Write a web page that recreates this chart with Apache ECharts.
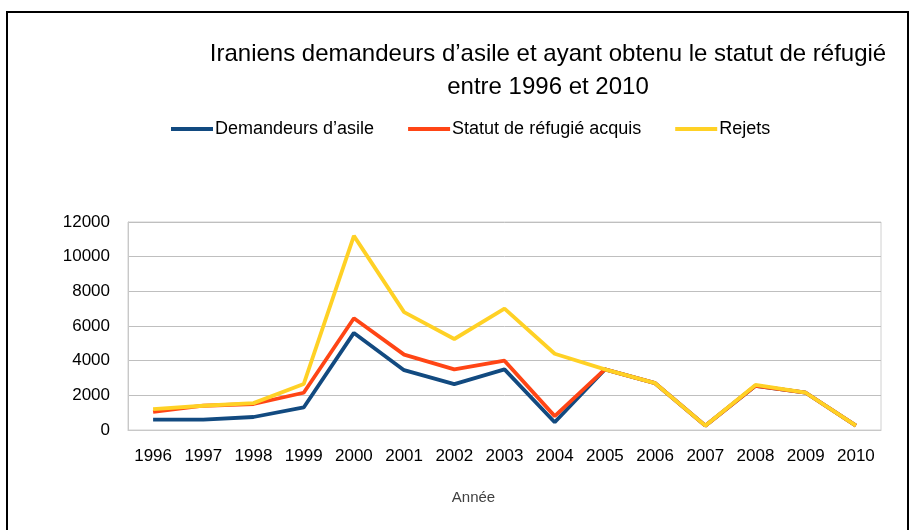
<!DOCTYPE html>
<html>
<head>
<meta charset="utf-8">
<script src="https://cdn.jsdelivr.net/npm/echarts@6/dist/echarts.min.js"></script>
<style>
  html, body { margin: 0; padding: 0; background: #fff; }
  #chart { width: 911px; height: 530px; }
</style>
</head>
<body>
<div id="chart"></div>
<script>
// annees
const years = ['1996', '1997', '1998', '1999', '2000', '2001', '2002', '2003', '2004', '2005', '2006', '2007', '2008', '2009', '2010']
// series
const demandeurs = [600, 600, 750, 1300, 5600, 3450, 2650, 3500, 450, 3500, 2700, 250, 2550, 2150, 250]
const statutAcquis = [1050, 1400, 1500, 2150, 6450, 4350, 3500, 4000, 800, 3500, 2700, 250, 2550, 2150, 250]
const rejets = [1200, 1400, 1550, 2650, 11200, 6800, 5250, 7000, 4400, 3500, 2700, 250, 2600, 2150, 250]
const yTicks = { min: 0, max: 12000, interval: 2000 }

const font = '"Liberation Sans", sans-serif'

const chart = echarts.init(document.getElementById('chart'), null, { renderer: 'canvas' })

function lineSerie(name, data, color) {
  return {
    name: name,
    type: 'line',
    data: data,
    symbol: 'none',
    lineStyle: { color: color, width: 3.8 },
    itemStyle: { color: color },
    animation: false
  }
}

chart.setOption({
  backgroundColor: '#fff',
  title: {
    text: 'Iraniens demandeurs d\u2019asile et ayant obtenu le statut de réfugié\nentre 1996 et 2010',
    left: 543,
    top: 33,
    textAlign: 'center',
    textStyle: {
      fontFamily: font,
      fontSize: 24,
      fontWeight: 'normal',
      color: '#000',
      lineHeight: 33
    }
  },
  legend: {
    top: 115,
    left: 166,
    itemWidth: 42,
    itemHeight: 4,
    itemGap: 34,
    icon: 'rect',
    textStyle: { fontFamily: font, fontSize: 18, color: '#000', padding: [0, 0, 0, -3] },
    data: ['Demandeurs d\u2019asile', 'Statut de réfugié acquis', 'Rejets']
  },
  grid: {
    left: 128,
    right: 30,
    top: 222,
    bottom: 100,
    show: true,
    borderColor: '#d0d0d0',
    borderWidth: 1
  },
  xAxis: {
    type: 'category',
    data: years,
    boundaryGap: true,
    axisTick: { show: false },
    axisLine: { lineStyle: { color: '#c8c8c8' } },
    axisLabel: { fontFamily: font, fontSize: 17, color: '#000', margin: 18 },
    name: 'Année',
    nameLocation: 'middle',
    nameGap: 60,
    nameTextStyle: { fontFamily: font, fontSize: 15, color: '#404040', padding: [0, 62, 0, 0] }
  },
  yAxis: {
    type: 'value',
    min: yTicks.min,
    max: yTicks.max,
    interval: yTicks.interval,
    axisLine: { show: true, lineStyle: { color: '#c8c8c8' } },
    axisTick: { show: false },
    axisLabel: { fontFamily: font, fontSize: 17, color: '#000', margin: 18, formatter: v => String(v) },
    splitLine: { lineStyle: { color: '#bfbfbf' } }
  },
  graphic: [{
    type: 'rect',
    shape: { x: 7, y: 12, width: 901, height: 540 },
    style: { fill: 'none', stroke: '#000', lineWidth: 2 },
    silent: true
  }],
  series: [
    lineSerie('Demandeurs d\u2019asile', demandeurs, '#124a80'),
    lineSerie('Statut de réfugié acquis', statutAcquis, '#ff4515'),
    lineSerie('Rejets', rejets, '#ffd125')
  ]
})
</script>
</body>
</html>
